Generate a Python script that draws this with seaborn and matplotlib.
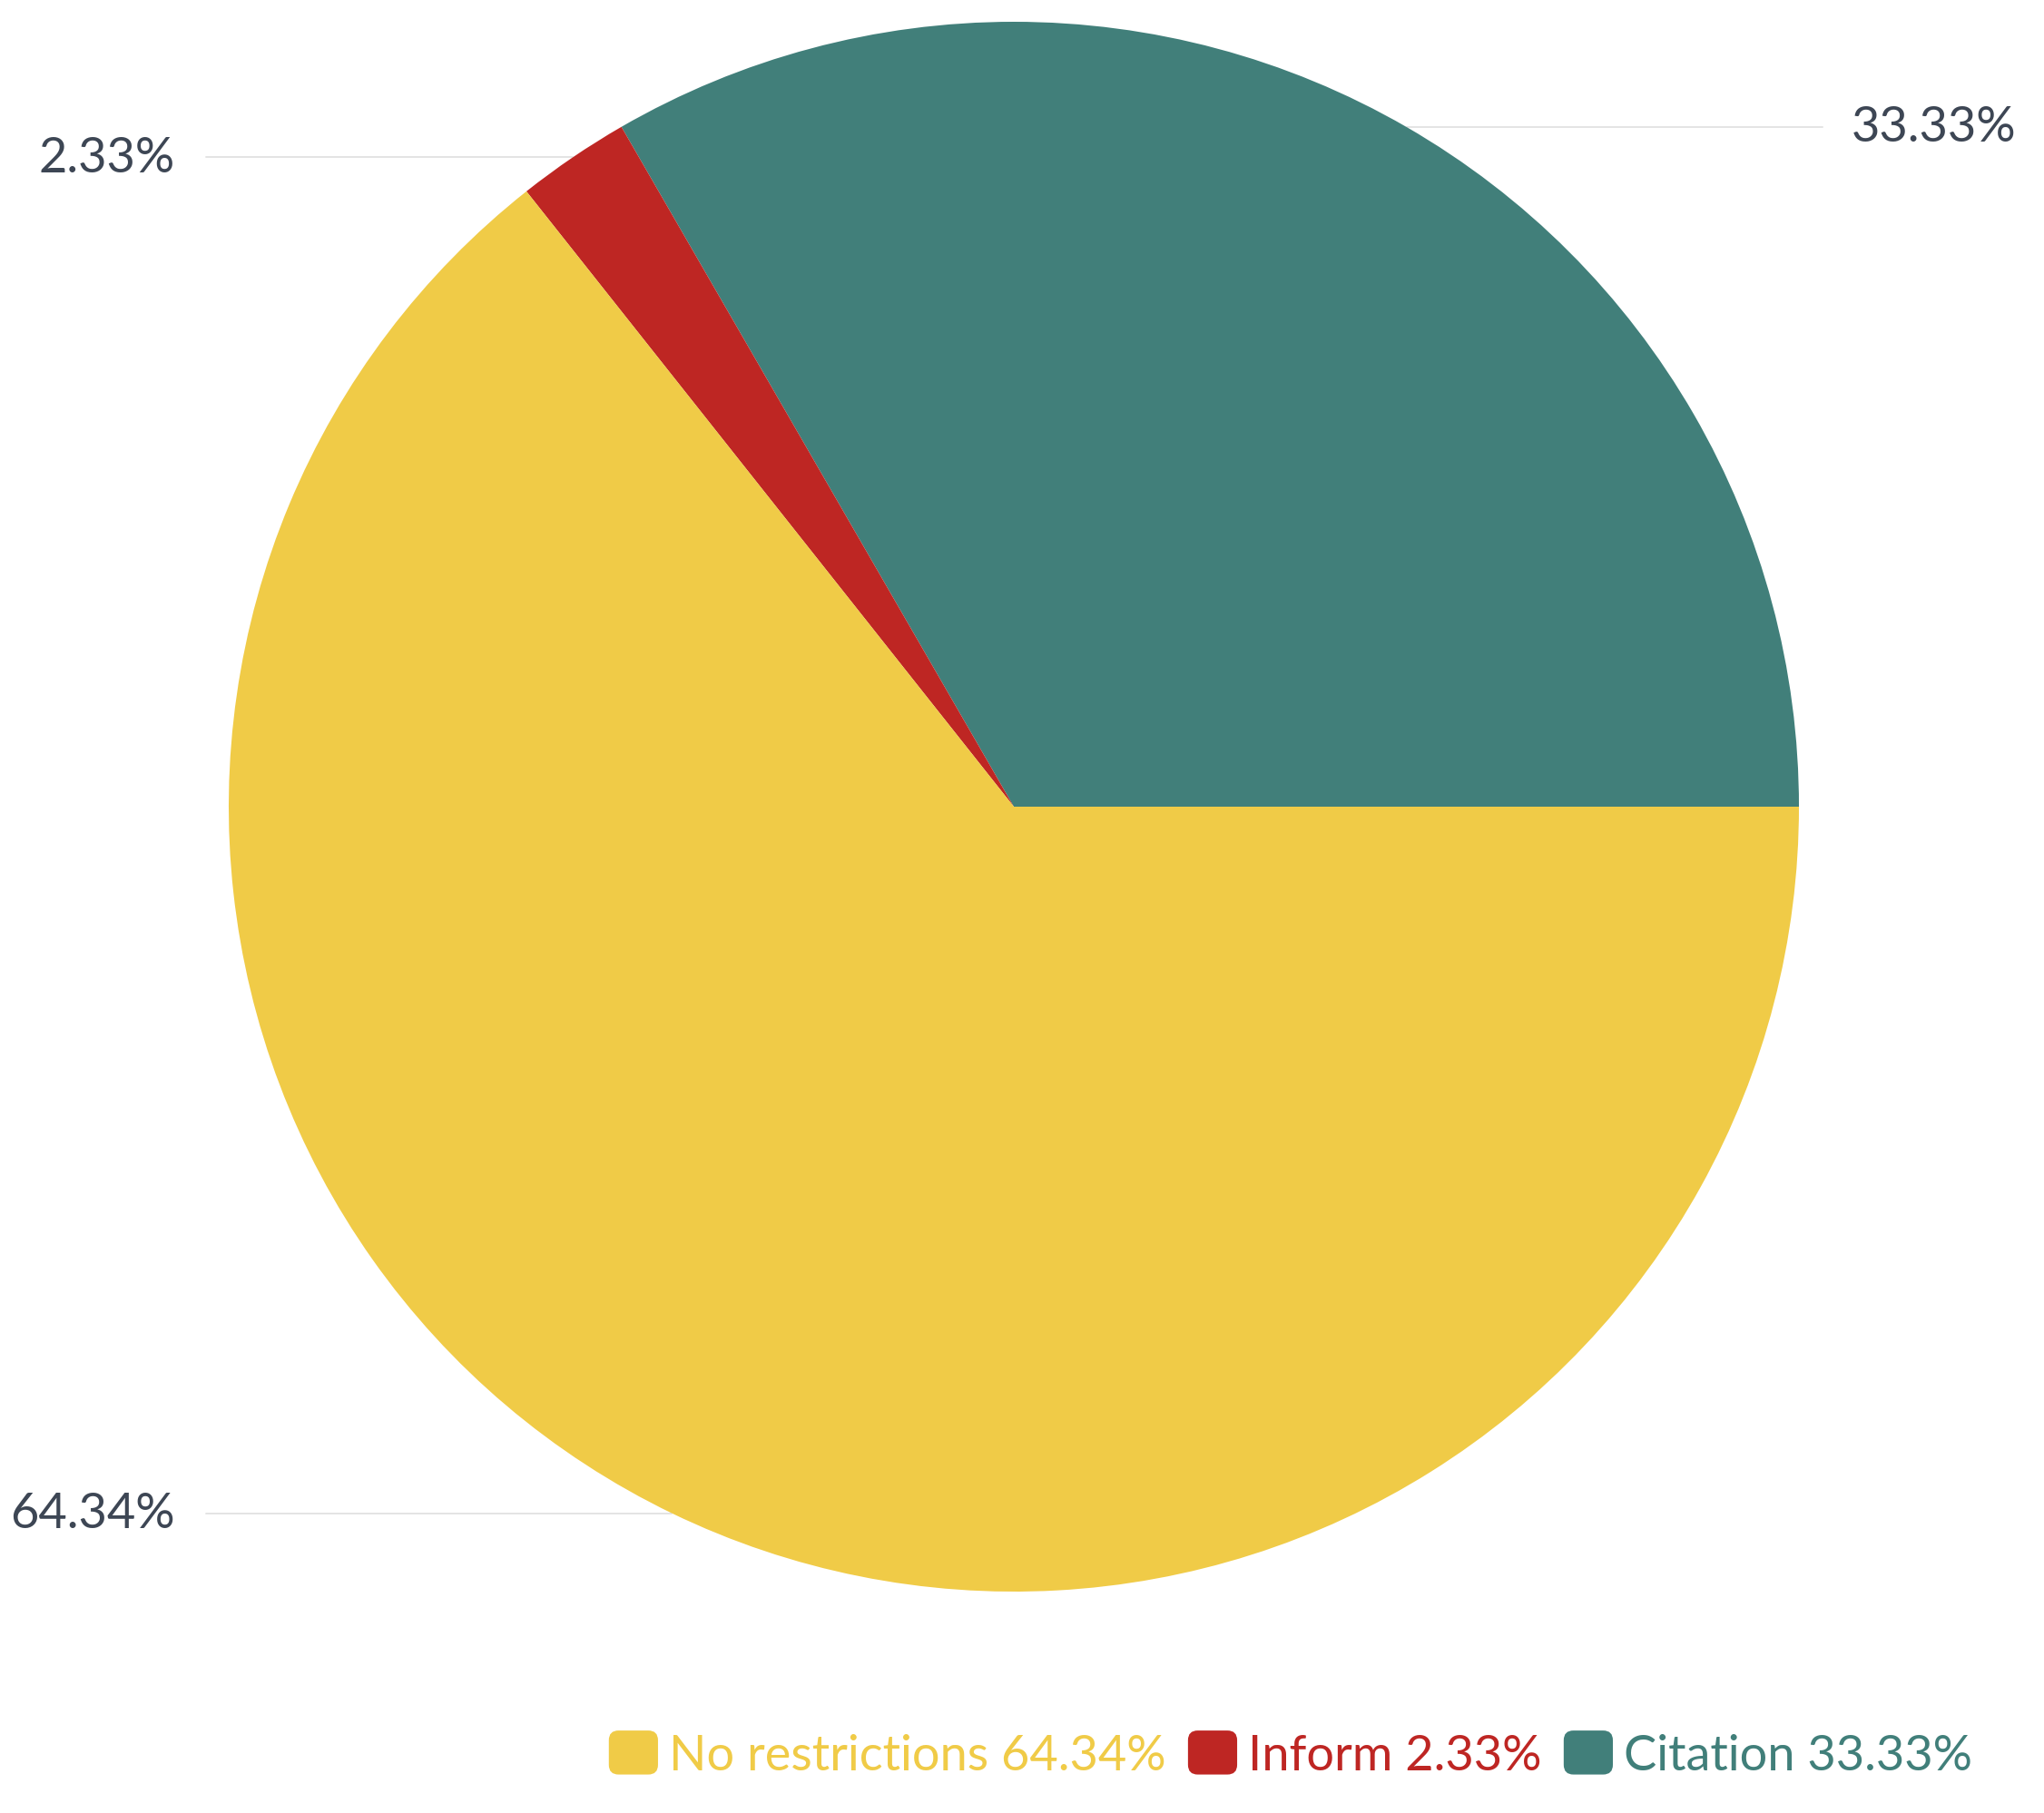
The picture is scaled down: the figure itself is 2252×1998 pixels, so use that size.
import matplotlib
matplotlib.use("Agg")
import matplotlib.pyplot as plt
from matplotlib.patches import FancyBboxPatch, Patch
from matplotlib.legend_handler import HandlerPatch
import numpy as np
import seaborn as sns

sns.set_theme(style="white")
plt.rcParams['font.family'] = ['Lato', 'DejaVu Sans']

# data (drawn counter-clockwise from 3 o'clock)
categories = ["Citation", "Inform", "No restrictions"]
values = [33.33, 2.33, 64.34]
colors = ["#417F7A", "#BE2623", "#F0CB47"]
legend_order = ["No restrictions", "Inform", "Citation"]

W, H = 2252, 1999
fig = plt.figure(figsize=(W / 100, H / 100), dpi=100)
ax = fig.add_axes([0, 0, 1, 1])
cx, cy, R = 1117, 890, 865

wedges, _ = ax.pie(values, colors=colors, startangle=0, counterclock=True,
                   radius=1, center=(0, 0), frame=True,
                   wedgeprops=dict(linewidth=0))
ax.set_xlim(-cx / R, (W - cx) / R)
ax.set_ylim(-(H - cy) / R, cy / R)
ax.set_aspect('auto')
ax.set_axis_off()

left_line_x = (227 - cx) / R
left_text_x = (193 - cx) / R
right_line_x = (2008 - cx) / R
right_text_x = (2040 - cx) / R
label_color = "#3D4654"
for w, v in zip(wedges, values):
    ang = np.deg2rad((w.theta1 + w.theta2) / 2)
    px, py = np.cos(ang), np.sin(ang)
    if px >= 0:
        ax.plot([px, right_line_x], [py, py], color="#E4E4E4", lw=1.4, zorder=0)
        ax.text(right_text_x, py, f"{v:.2f}%", ha="left", va="center",
                fontsize=39, color=label_color)
    else:
        ax.plot([left_line_x, px], [py, py], color="#E4E4E4", lw=1.4, zorder=0)
        ax.text(left_text_x, py, f"{v:.2f}%", ha="right", va="center",
                fontsize=39, color=label_color)


class RoundHandler(HandlerPatch):
    def create_artists(self, legend, orig_handle, xdescent, ydescent,
                       width, height, fontsize, trans):
        p = FancyBboxPatch((-xdescent, -ydescent), width, height,
                           boxstyle=f"round,pad=0,rounding_size={0.22 * height}",
                           fc=orig_handle.get_facecolor(), ec="none",
                           transform=trans)
        return [p]


cmap = dict(zip(categories, colors))
vmap = dict(zip(categories, values))
handles = [Patch(facecolor=cmap[c]) for c in legend_order]
labels = [f"{c} {vmap[c]:.2f}%" for c in legend_order]
leg = fig.legend(handles, labels, loc="center right",
                 bbox_to_anchor=(2200 / W, 1 - 1934 / H), ncol=3,
                 frameon=False, fontsize=39, handlelength=1.0, handleheight=1.0,
                 handletextpad=0.22, columnspacing=0.45, borderpad=0,
                 handler_map={Patch: RoundHandler()})
for t, c in zip(leg.get_texts(), legend_order):
    t.set_color(cmap[c])

fig.savefig("out.png", dpi=100, facecolor="white")
